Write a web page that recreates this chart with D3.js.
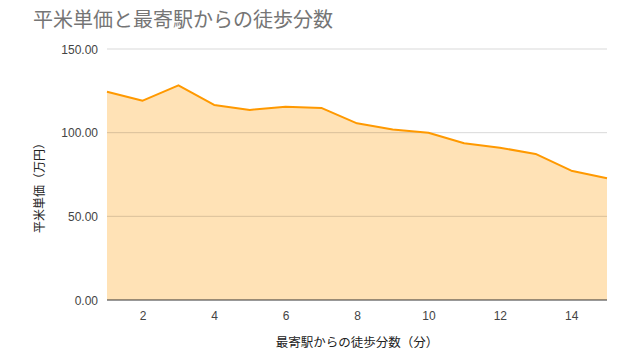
<!DOCTYPE html>
<html>
<head>
<meta charset="utf-8">
<script src="https://cdn.jsdelivr.net/npm/d3@7"></script>
<style>
  body { margin: 0; background: #fff; }
  text { font-family: Arial, "Liberation Sans", "Noto Sans CJK JP", sans-serif; }
</style>
</head>
<body>
<div id="chart"></div>
<script>
// walking minutes from nearest station
const minutes = [1, 2, 3, 4, 5, 6, 7, 8, 9, 10, 11, 12, 13, 14, 15];
// price per square metre (10k yen)
const prices = [124.5, 119.1, 128.3, 116.6, 113.6, 115.5, 114.8, 105.6, 101.9, 100.0, 93.7, 91.0, 87.3, 77.3, 72.7];
const yTicks = [0, 50, 100, 150];
const xTicks = [2, 4, 6, 8, 10, 12, 14];

const width = 638;
const height = 364;
const margin = { top: 49, right: 31, bottom: 64, left: 107 };

const svg = d3.select('#chart')
  .append('svg')
  .attr('width', width)
  .attr('height', height);

const x = d3.scaleLinear()
  .domain([1, 15])
  .range([margin.left, width - margin.right]);

const y = d3.scaleLinear()
  .domain([0, 150])
  .range([height - margin.bottom, margin.top]);

const data = minutes.map((m, i) => ({ m, v: prices[i] }));

// title
svg.append('text')
  .attr('x', 33)
  .attr('y', 27)
  .attr('font-size', '20px')
  .attr('fill', '#757575')
  .text('平米単価と最寄駅からの徒歩分数');

// area fill
svg.append('path')
  .datum(data)
  .attr('fill', '#ffe0b2')
  .attr('fill-opacity', 0.95)
  .attr('d', d3.area()
    .x((d) => x(d.m))
    .y0(y(0))
    .y1((d) => y(d.v)));

// gridlines over the fill
svg.append('g')
  .selectAll('line')
  .data(yTicks.filter((t) => t > 0))
  .enter()
  .append('line')
  .attr('x1', x(1))
  .attr('x2', x(15))
  .attr('y1', (d) => y(d))
  .attr('y2', (d) => y(d))
  .attr('stroke', '#000')
  .attr('stroke-opacity', 0.15)
  .attr('stroke-width', 1);

// line
svg.append('path')
  .datum(data)
  .attr('fill', 'none')
  .attr('stroke', '#ff9900')
  .attr('stroke-width', 2)
  .attr('stroke-linejoin', 'round')
  .attr('d', d3.line()
    .x((d) => x(d.m))
    .y((d) => y(d.v)));

// baseline
svg.append('line')
  .attr('x1', x(1))
  .attr('x2', x(15))
  .attr('y1', y(0))
  .attr('y2', y(0))
  .attr('stroke', '#333')
  .attr('stroke-width', 1);

// y axis labels
const yAxis = svg.append('g')
  .attr('transform', `translate(${margin.left - 6},0)`)
  .call(d3.axisLeft(y).tickValues(yTicks).tickFormat(d3.format('.2f')).tickSize(0));
yAxis.select('.domain').remove();
yAxis.selectAll('text')
  .attr('font-size', '12px')
  .attr('fill', '#444')
  .attr('dy', '0.35em');

// x axis labels
const xAxis = svg.append('g')
  .attr('transform', `translate(0,${y(0) + 6})`)
  .call(d3.axisBottom(x).tickValues(xTicks).tickSize(0));
xAxis.select('.domain').remove();
xAxis.selectAll('text')
  .attr('font-size', '12px')
  .attr('fill', '#444')
  .attr('dy', '0.9em');

// axis titles
svg.append('text')
  .attr('x', (x(1) + x(15)) / 2)
  .attr('y', 347)
  .attr('text-anchor', 'middle')
  .attr('font-size', '12.5px')
  .attr('fill', '#222')
  .text('最寄駅からの徒歩分数（分）');

svg.append('text')
  .attr('transform', `translate(44,185) rotate(-90)`)
  .attr('text-anchor', 'middle')
  .attr('font-size', '12px')
  .attr('fill', '#222')
  .text('平米単価（万円）');
</script>
</body>
</html>
